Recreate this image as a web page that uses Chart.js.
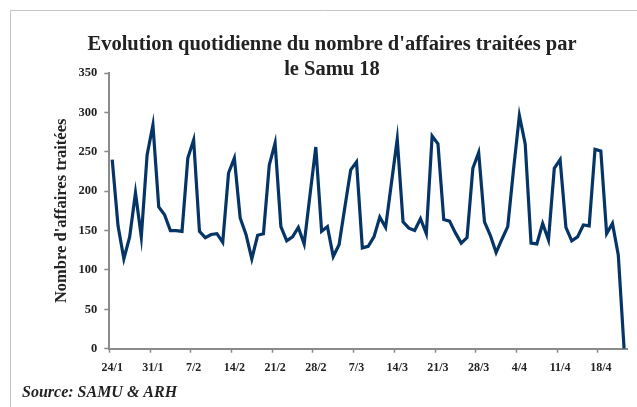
<!DOCTYPE html>
<html>
<head>
<meta charset="utf-8">
<script src="https://cdn.jsdelivr.net/npm/chart.js@4.4.1/dist/chart.umd.min.js"></script>
<style>
    html, body { margin: 0; padding: 0; background: #ffffff; }
    #wrap { width: 637px; height: 407px; }
</style>
</head>
<body>
<div id="wrap"><canvas id="samu" width="637" height="407"></canvas></div>
<script>
// one entry per day, 24/1 -> 22/4
const days = [
    '24/1', '25/1', '26/1', '27/1', '28/1', '29/1', '30/1',
    '31/1', '1/2', '2/2', '3/2', '4/2', '5/2', '6/2',
    '7/2', '8/2', '9/2', '10/2', '11/2', '12/2', '13/2',
    '14/2', '15/2', '16/2', '17/2', '18/2', '19/2', '20/2',
    '21/2', '22/2', '23/2', '24/2', '25/2', '26/2', '27/2',
    '28/2', '1/3', '2/3', '3/3', '4/3', '5/3', '6/3',
    '7/3', '8/3', '9/3', '10/3', '11/3', '12/3', '13/3',
    '14/3', '15/3', '16/3', '17/3', '18/3', '19/3', '20/3',
    '21/3', '22/3', '23/3', '24/3', '25/3', '26/3', '27/3',
    '28/3', '29/3', '30/3', '31/3', '1/4', '2/4', '3/4',
    '4/4', '5/4', '6/4', '7/4', '8/4', '9/4', '10/4',
    '11/4', '12/4', '13/4', '14/4', '15/4', '16/4', '17/4',
    '18/4', '19/4', '20/4', '21/4', '22/4'
];

const affaires = [
    240, 156, 114, 142, 198, 142, 246,
    284, 180, 170, 150, 150, 149, 242,
    265, 149, 141, 145, 146, 135, 223,
    242, 166, 145, 114, 144, 146, 233,
    261, 155, 137, 142, 154, 133, 195,
    256, 149, 155, 117, 132, 180, 227,
    237, 128, 130, 142, 167, 154, 210,
    266, 161, 153, 150, 165, 146, 270,
    260, 164, 162, 147, 134, 141, 229,
    249, 161, 144, 122, 139, 155, 228,
    296, 260, 134, 133, 159, 138, 229,
    240, 154, 137, 142, 157, 156, 253,
    251, 146, 159, 119, 0
];

const yTicks = [0, 50, 100, 150, 200, 250, 300, 350];

const titleLines = ["Evolution quotidienne du nombre d'affaires traitées par", 'le Samu 18'];
const sourceText = 'Source: SAMU & ARH';

const serif = "'Liberation Serif', 'Times New Roman', serif";
const inkColor = '#222222';
const axisColor = '#8a8a8a';
const lineColor = '#053566';

// frame, title and source drawn straight on the canvas
const decorPlugin = {
    id: 'decor',
    beforeDraw: function (chart) {
        const ctx = chart.ctx;
        ctx.save();
        ctx.strokeStyle = '#c4c4c4';
        ctx.lineWidth = 1;
        ctx.beginPath();
        ctx.moveTo(10.5, 407);
        ctx.lineTo(10.5, 10.5);
        ctx.lineTo(637, 10.5);
        ctx.stroke();
        ctx.restore();
    },
    afterDraw: function (chart) {
        const ctx = chart.ctx;
        ctx.save();
        ctx.fillStyle = inkColor;
        ctx.textAlign = 'center';
        ctx.textBaseline = 'middle';
        ctx.font = 'bold 20.5px ' + serif;
        ctx.fillText(titleLines[0], 332, 45);
        ctx.fillText(titleLines[1], 332, 70);

        ctx.textAlign = 'left';
        ctx.font = 'italic bold 16px ' + serif;
        ctx.fillText(sourceText, 22, 393);
        ctx.restore();
    }
};

new Chart(document.getElementById('samu').getContext('2d'), {
    type: 'line',
    data: {
        labels: days,
        datasets: [{
            label: "Nombre d'affaires traitées",
            data: affaires,
            borderColor: lineColor,
            borderWidth: 3.2,
            pointRadius: 0,
            tension: 0,
            fill: false,
        }]
    },
    options: {
        responsive: false,
        animation: false,
        layout: {
            padding: { top: 73, left: 10, right: 10, bottom: 0 }
        },
        plugins: {
            legend: { display: false },
            tooltip: { enabled: false },
        },
        scales: {
            x: {
                type: 'category',
                offset: true,
                grid: {
                    offset: true,
                    drawOnChartArea: false,
                    drawTicks: true,
                    tickLength: 4,
                    tickWidth: 1.5,
                    tickColor: function (ctx) {
                        return ctx.index % 7 === 0 ? axisColor : 'rgba(0,0,0,0)';
                    },
                },
                border: { display: true, color: axisColor, width: 2 },
                ticks: {
                    autoSkip: false,
                    maxRotation: 0,
                    padding: 8,
                    color: inkColor,
                    font: { family: serif, size: 12, weight: 'bold' },
                    callback: function (value, index) {
                        return index % 7 === 0 ? days[index] : '';
                    },
                },
                afterFit: function (scale) {
                    scale.height = 58.3;
                },
            },
            y: {
                min: 0,
                max: 350,
                afterBuildTicks: function (scale) {
                    scale.ticks = yTicks.map(v => ({ value: v }));
                },
                grid: {
                    drawOnChartArea: false,
                    drawTicks: true,
                    tickLength: 5,
                    tickWidth: 1.5,
                    tickColor: axisColor,
                },
                border: { display: true, color: axisColor, width: 2 },
                ticks: {
                    padding: 7,
                    color: inkColor,
                    font: { family: serif, size: 12.5, weight: 'bold' },
                },
                title: {
                    display: true,
                    text: "Nombre d'affaires traitées",
                    color: inkColor,
                    font: { family: serif, size: 16.5, weight: 'bold' },
                    padding: { top: 42, bottom: 0 },
                },
                afterFit: function (scale) {
                    scale.width = 99.3;
                },
            }
        }
    },
    plugins: [decorPlugin]
});
</script>
</body>
</html>
